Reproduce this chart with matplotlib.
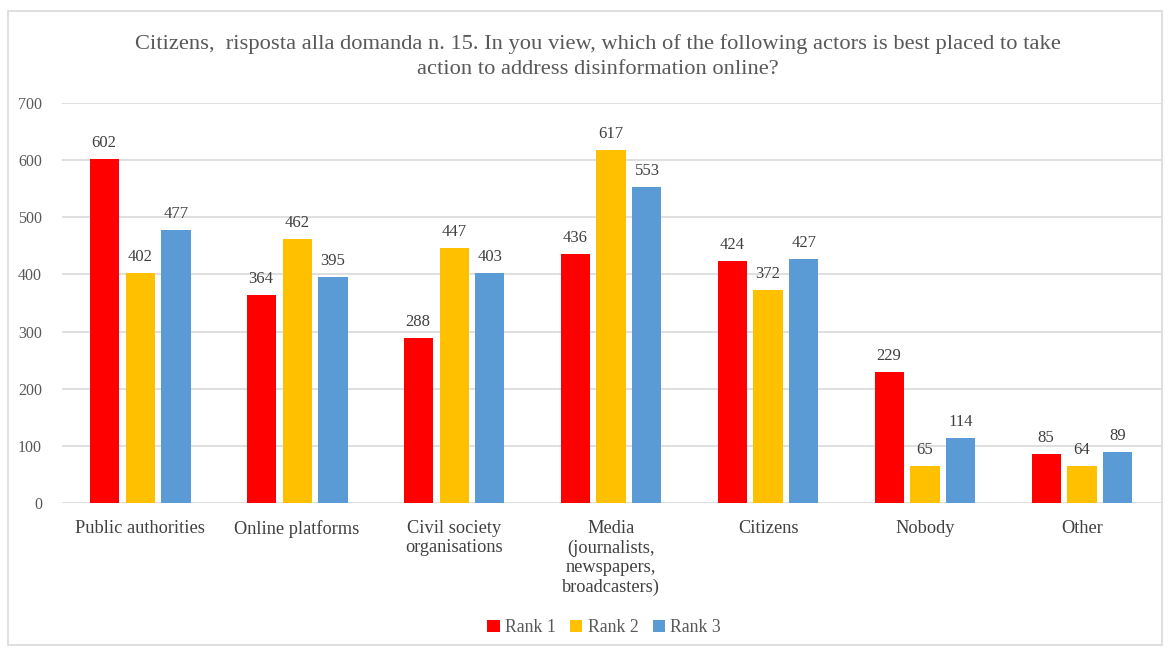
import numpy as np
import matplotlib.pyplot as plt
from matplotlib.patches import Rectangle

categories = ["Public authorities", "Online platforms", "Civil society\norganisations",
              "Media\n(journalists,\nnewspapers,\nbroadcasters)", "Citizens", "Nobody", "Other"]
rank1 = [602, 364, 288, 436, 424, 229, 85]
rank2 = [402, 462, 447, 617, 372, 65, 64]
rank3 = [477, 395, 403, 553, 427, 114, 89]
series_names = ["Rank 1", "Rank 2", "Rank 3"]
colors = ["#ff0000", "#ffc000", "#5b9bd5"]

plt.rcParams['font.family'] = ['Liberation Serif', 'DejaVu Serif']
txt = "#595959"

fig = plt.figure(figsize=(11.72, 6.5), dpi=100)
ax = fig.add_axes([0.0525, 0.2262, 0.9377, 0.6153])

x = np.arange(len(categories))
width = 0.185
step = 0.229
for i, (vals, name, c) in enumerate(zip([rank1, rank2, rank3], series_names, colors)):
    bars = ax.bar(x + (i - 1) * step, vals, width, color=c, label=name, zorder=3)
    for b, v in zip(bars, vals):
        ax.text(b.get_x() + b.get_width() / 2, v + 14, str(v), ha='center', va='bottom',
                fontsize=12, color='#404040')

ax.set_xlim(-0.5, len(categories) - 0.5)
ax.set_ylim(0, 700)
ax.set_yticks(range(0, 701, 100))
ax.yaxis.grid(True, color='#d9d9d9', linewidth=1.2, zorder=0)
ax.set_axisbelow(True)
for s in ax.spines.values():
    s.set_visible(False)
ax.tick_params(length=0, labelsize=11.5, labelcolor=txt)
ax.tick_params(axis='y', pad=14)
ax.tick_params(axis='x', pad=12)
ax.set_xticks(x)
ax.set_xticklabels(categories, linespacing=1.2, fontsize=13.2, color='#404040')

fig.text(0.51, 0.913, "Citizens,  risposta alla domanda n. 15. In you view, which of the following actors is best placed to take\naction to address disinformation online?",
         ha='center', va='center', fontsize=16.2, color=txt, linespacing=1.45)

fig.legend(loc='center', bbox_to_anchor=(0.5155, 0.034), ncol=3, frameon=False,
           fontsize=12.8, handlelength=0.7, handleheight=0.7, handletextpad=0.3,
           columnspacing=0.8, labelcolor=txt)

fig.patches.append(Rectangle((8 / 1172, 5 / 650), 1154 / 1172, 634 / 650, transform=fig.transFigure,
                             fill=False, edgecolor='#d9d9d9', linewidth=1.2))

fig.savefig("out.png", dpi=100)
